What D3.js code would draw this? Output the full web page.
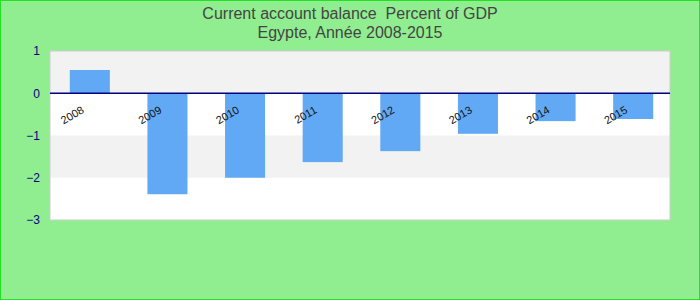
<!DOCTYPE html>
<html><head><meta charset="utf-8">
<script src="https://cdn.jsdelivr.net/npm/d3@7"></script>
<style>body{margin:0;}</style>
</head><body>
<svg id="c" width="700" height="300"></svg>
<script>
const categories = ["2008","2009","2010","2011","2012","2013","2014","2015"];
const values = [0.55,-2.39,-2.0,-1.63,-1.37,-0.96,-0.66,-0.61];
const yTicks = [1,0,-1,-2,-3];
const titleLines = ["Current account balance  Percent of GDP","Egypte, Année 2008-2015"];

const svg = d3.select("#c");
svg.append("rect").attr("x",0.5).attr("y",0.5).attr("width",699).attr("height",299)
  .attr("fill","#90ee90").attr("stroke","#22e022").attr("stroke-width",1);

const pL=50, pR=670, pT=51, pB=220;
const y = d3.scaleLinear().domain([-3,1]).range([pB,pT]);
const x = d3.scaleBand().domain(categories).range([51,672]).paddingInner(0.484).paddingOuter(0.242);

svg.append("rect").attr("x",pL).attr("y",pT).attr("width",pR-pL).attr("height",pB-pT)
  .attr("fill","#ffffff");
const bands = [[1,0],[-1,-2]];
svg.selectAll("rect.band").data(bands).enter().append("rect").attr("class","band")
  .attr("x",pL).attr("width",pR-pL)
  .attr("y",d=>y(d[0])).attr("height",d=>y(d[1])-y(d[0])).attr("fill","#f2f2f2");
svg.append("rect").attr("x",pL).attr("y",pT).attr("width",pR-pL).attr("height",pB-pT)
  .attr("fill","none").attr("stroke","#cccccc").attr("stroke-width",1);

svg.selectAll("rect.bar").data(values).enter().append("rect").attr("class","bar")
  .attr("x",(d,i)=>x(categories[i])).attr("width",x.bandwidth())
  .attr("y",d=>y(Math.max(0,d))).attr("height",d=>Math.abs(y(d)-y(0)))
  .attr("fill","#62a9f5");

svg.append("line").attr("x1",pL).attr("x2",pR).attr("y1",y(0)).attr("y2",y(0))
  .attr("stroke","#000080").attr("stroke-width",1.5);

const yAxis = d3.axisLeft(y).tickValues(yTicks).tickSize(0).tickPadding(0).tickFormat(d3.format("d"));
const ya = svg.append("g").attr("transform","translate(40,0)").call(yAxis);
ya.select(".domain").remove();
ya.selectAll("text").attr("fill","#000080").attr("font-family","Liberation Sans, Arial, sans-serif").attr("font-size",12);

svg.selectAll("text.xl").data(categories).enter().append("text").attr("class","xl")
  .attr("transform",d=>`translate(${x(d)+x.bandwidth()/2-5},${y(0)+19}) rotate(-30)`)
  .attr("text-anchor","end").attr("font-family","Liberation Sans, Arial, sans-serif")
  .attr("font-size",11).attr("fill","#111").text(d=>d);

svg.selectAll("text.t").data(titleLines).enter().append("text").attr("class","t")
  .attr("x",350).attr("y",(d,i)=>18.5+i*19).attr("text-anchor","middle")
  .style("white-space","pre")
  .attr("font-family","Liberation Sans, Arial, sans-serif").attr("font-size",16)
  .attr("fill","#444").text(d=>d);
</script>
</body></html>
